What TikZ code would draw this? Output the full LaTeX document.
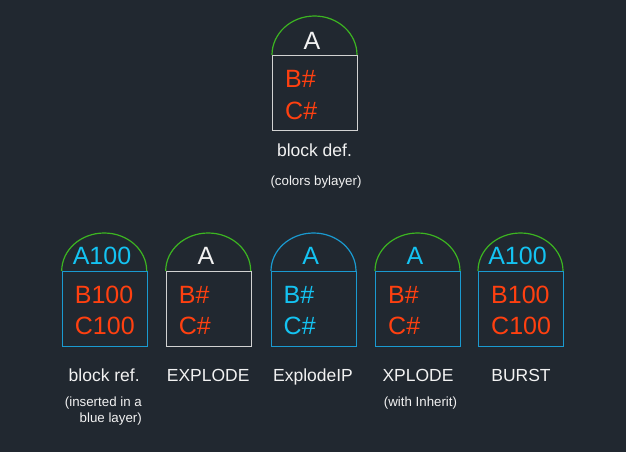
\documentclass[tikz,border=0pt]{standalone}
\usepackage{fontspec}
\setmainfont{Liberation Sans}
\definecolor{bg}{HTML}{212830}
\definecolor{arcgreen}{HTML}{3CB521}
\definecolor{lineblue}{HTML}{1A9AD0}
\definecolor{txtcyan}{HTML}{14C3F2}
\definecolor{txtred}{HTML}{FF4010}
\definecolor{linewhite}{HTML}{D2D2D2}
\definecolor{txtwhite}{HTML}{F2F2F2}
\tikzset{
  box/.style={draw, line width=1.2pt, minimum width=85pt, minimum height=75pt, inner sep=0pt, anchor=north west},
  arcline/.style={line width=1.2pt},
  big/.style={font=\fontsize{25}{25}\selectfont, inner sep=0pt},
  lab/.style={font=\fontsize{17.5}{17.5}\selectfont, text=txtwhite, inner sep=0pt, anchor=base},
  small/.style={font=\fontsize{13.3}{13.3}\selectfont, text=txtwhite, inner sep=0pt},
}
\begin{document}
\begin{tikzpicture}[x=1pt,y=-1pt]
\fill[bg] (0,0) rectangle (626,452);
\useasboundingbox (0,0) rectangle (626,452);
% ---------- top block ----------
\node[box, draw=linewhite] (r0) at (272,55) {};
\draw[arcline, arcgreen] (r0.north west) arc[start angle=180, end angle=0, x radius=42.5pt, y radius=39pt];
\node[big, text=txtwhite, anchor=base] (a0) at (312,49) {A};
\node[big, text=txtred, anchor=base west] (b0) at (285,87.5) {B\#};
\node[big, text=txtred, anchor=base west] (c0) at (285,119.5) {C\#};
\node[lab] (l0) at (314.5,156) {block def.};
\node[small, anchor=base] (s0) at (316,185) {(colors bylayer)};
% ---------- block 1: block ref ----------
\node[box, draw=lineblue] (r1) at (61.7,271) {};
\draw[arcline, arcgreen] (r1.north west) arc[start angle=180, end angle=0, x radius=42.5pt, y radius=38pt];
\node[big, text=txtcyan, anchor=base] (a1) at (102,264) {A100};
\node[big, text=txtred, anchor=base west] (b1) at (74.7,303) {B100};
\node[big, text=txtred, anchor=base west] (c1) at (74.7,334.5) {C100};
\node[lab] (l1) at (104.2,381.7) {block ref.};
\node[small, anchor=base east] (s1a) at (142,406) {(inserted in a};
\node[small, anchor=base east] (s1b) at (142,422.5) {blue layer)};
% ---------- block 2: EXPLODE ----------
\node[box, draw=linewhite] (r2) at (165.7,271) {};
\draw[arcline, arcgreen] (r2.north west) arc[start angle=180, end angle=0, x radius=42.5pt, y radius=38pt];
\node[big, text=txtwhite, anchor=base] (a2) at (206,264) {A};
\node[big, text=txtred, anchor=base west] (b2) at (178.7,303) {B\#};
\node[big, text=txtred, anchor=base west] (c2) at (178.7,334.5) {C\#};
\node[lab] (l2) at (208.2,381.7) {EXPLODE};
% ---------- block 3: ExplodeIP ----------
\node[box, draw=lineblue] (r3) at (271,271) {};
\draw[arcline, lineblue] (r3.north west) arc[start angle=180, end angle=0, x radius=42.5pt, y radius=38pt];
\node[big, text=txtcyan, anchor=base] (a3) at (310.8,264) {A};
\node[big, text=txtcyan, anchor=base west] (b3) at (283.5,303) {B\#};
\node[big, text=txtcyan, anchor=base west] (c3) at (283.5,334.5) {C\#};
\node[lab] (l3) at (313,381.7) {ExplodeIP};
% ---------- block 4: XPLODE ----------
\node[box, draw=lineblue] (r4) at (375,271) {};
\draw[arcline, arcgreen] (r4.north west) arc[start angle=180, end angle=0, x radius=42.5pt, y radius=38pt];
\node[big, text=txtcyan, anchor=base] (a4) at (415,264) {A};
\node[big, text=txtred, anchor=base west] (b4) at (388,303) {B\#};
\node[big, text=txtred, anchor=base west] (c4) at (388,334.5) {C\#};
\node[lab] (l4) at (418,381.7) {XPLODE};
\node[small, anchor=base] (s4) at (420.5,406.5) {(with Inherit)};
% ---------- block 5: BURST ----------
\node[box, draw=lineblue] (r5) at (478,271) {};
\draw[arcline, arcgreen] (r5.north west) arc[start angle=180, end angle=0, x radius=42.5pt, y radius=38pt];
\node[big, text=txtcyan, anchor=base] (a5) at (517.5,264) {A100};
\node[big, text=txtred, anchor=base west] (b5) at (491,303) {B100};
\node[big, text=txtred, anchor=base west] (c5) at (491,334.5) {C100};
\node[lab] (l5) at (521,381.7) {BURST};
\end{tikzpicture}
\end{document}
